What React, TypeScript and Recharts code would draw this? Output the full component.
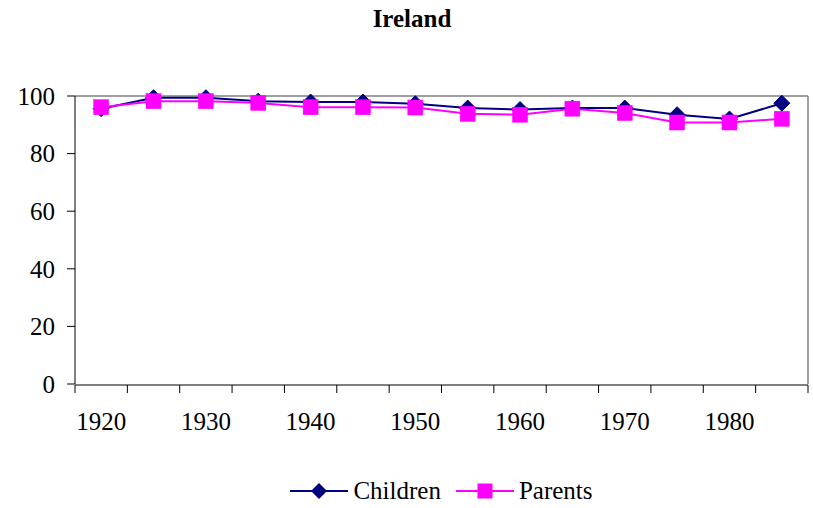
import React from 'react';
import { LineChart, Line, XAxis, YAxis, Legend, ReferenceLine } from 'recharts';

const title = 'Ireland';
const years = ['1920', '1925', '1930', '1935', '1940', '1945', '1950', '1955', '1960', '1965', '1970', '1975', '1980', '1985'];
const children = [95.6, 99.4, 99.4, 98.2, 97.9, 97.9, 97.3, 95.8, 95.3, 95.8, 95.8, 93.5, 92.0, 97.5];
const parents = [96.1, 98.2, 98.2, 97.6, 96.1, 96.1, 96.0, 93.8, 93.5, 95.6, 94.1, 90.8, 90.8, 92.1];
const yTicks = [0, 20, 40, 60, 80, 100];
const labelYears = ['1920', '1930', '1940', '1950', '1960', '1970', '1980'];

const NAVY = '#000080';
const MAGENTA = '#FF00FF';
const FONT = "'Times New Roman', 'Liberation Serif', serif";

const data = years.map((y, i) => ({ idx: i, year: y, Children: children[i], Parents: parents[i] }));
const boundaryTicks = [...years.map((_, i) => i - 0.5), years.length - 0.5];
const labelTicks = labelYears.map((y) => years.indexOf(y));

const Diamond = (props: any) => {
  const { cx, cy } = props;
  if (cx == null || cy == null) return null;
  const r = 8;
  return (
    <polygon
      points={`${cx},${cy - r} ${cx + r},${cy} ${cx},${cy + r} ${cx - r},${cy}`}
      fill={NAVY}
      stroke={NAVY}
      strokeWidth={1}
    />
  );
};

const Square = (props: any) => {
  const { cx, cy } = props;
  if (cx == null || cy == null) return null;
  const s = 15;
  return <rect x={cx - s / 2} y={cy - s / 2} width={s} height={s} fill={MAGENTA} stroke={MAGENTA} strokeWidth={0.5} />;
};

const renderLegend = () => (
  <div
    style={{
      display: 'flex',
      justifyContent: 'center',
      alignItems: 'center',
      fontFamily: FONT,
      fontSize: 25,
      color: '#000',
    }}
  >
    <svg width={58} height={20}>
      <line x1={0} y1={10} x2={58} y2={10} stroke={NAVY} strokeWidth={2} />
      <polygon points="29,2 37,10 29,18 21,10" fill={NAVY} />
    </svg>
    <span style={{ marginLeft: 5, marginRight: 15 }}>Children</span>
    <svg width={58} height={20}>
      <line x1={0} y1={10} x2={58} y2={10} stroke={MAGENTA} strokeWidth={2} />
      <rect x={21.5} y={2.5} width={15} height={15} fill={MAGENTA} />
    </svg>
    <span style={{ marginLeft: 5 }}>Parents</span>
  </div>
);

export default function App() {
  return (
    <div style={{ position: 'absolute', left: 0, top: 0, width: 813, height: 508, background: '#fff', fontFamily: FONT }}>
      <svg width={813} height={40} style={{ position: 'absolute', left: 0, top: 0 }}>
        <text x={412} y={27} textAnchor="middle" style={{ fontFamily: FONT }} fontSize={25} fontWeight="bold" fill="#000">
          {title}
        </text>
      </svg>
      <LineChart width={813} height={508} data={data} margin={{ top: 96, right: 5, left: 0, bottom: 122 }}>
        <XAxis
          xAxisId="ticks"
          type="number"
          dataKey="idx"
          domain={[-0.5, years.length - 0.5]}
          ticks={boundaryTicks}
          interval={0}
          tickFormatter={() => ''}
          tickSize={8}
          tickLine={{ stroke: '#000' }}
          axisLine={{ stroke: '#000' }}
          height={1}
        />
        <XAxis
          xAxisId="labels"
          type="number"
          dataKey="idx"
          domain={[-0.5, years.length - 0.5]}
          ticks={labelTicks}
          interval={0}
          tickFormatter={(v: number) => years[v]}
          tickLine={false}
          axisLine={false}
          tickSize={8}
          tickMargin={20}
          height={1}
          tick={{ fill: '#000', fontSize: 25, style: { fontFamily: FONT } }}
        />
        <YAxis
          type="number"
          domain={[0, 100]}
          ticks={yTicks}
          interval={0}
          width={75}
          tickSize={8}
          tickMargin={12}
          tickLine={{ stroke: '#000' }}
          axisLine={{ stroke: '#000' }}
          tick={{ fill: '#000', fontSize: 25, style: { fontFamily: FONT } }}
        />
        <ReferenceLine y={100} xAxisId="ticks" stroke="#808080" strokeWidth={1.5} />
        <ReferenceLine x={years.length - 0.5} xAxisId="ticks" stroke="#808080" strokeWidth={1.5} />
        <Line
          xAxisId="ticks"
          type="linear"
          dataKey="Children"
          stroke={NAVY}
          strokeWidth={2}
          dot={(p: any) => <Diamond key={`d-${p.index}`} {...p} />}
          activeDot={false}
          isAnimationActive={false}
        />
        <Line
          xAxisId="ticks"
          type="linear"
          dataKey="Parents"
          stroke={MAGENTA}
          strokeWidth={2}
          dot={(p: any) => <Square key={`s-${p.index}`} {...p} />}
          activeDot={false}
          isAnimationActive={false}
        />
        <Legend
          layout="horizontal"
          verticalAlign="middle"
          align="center"
          wrapperStyle={{ top: 477, left: 75, width: 733 }}
          content={renderLegend}
        />
      </LineChart>
    </div>
  );
}
